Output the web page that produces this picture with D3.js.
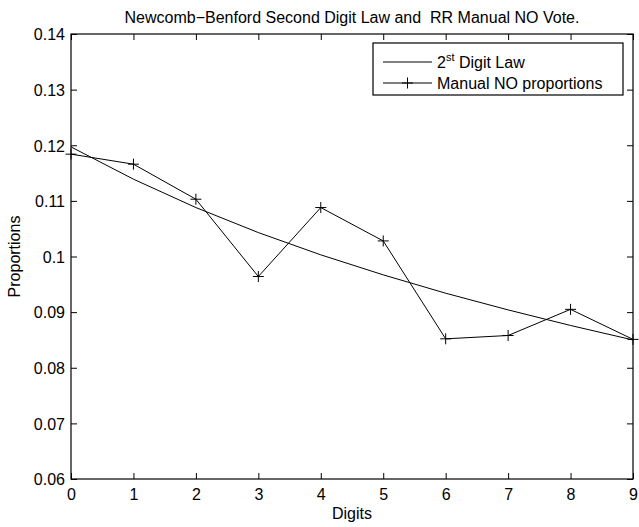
<!DOCTYPE html>
<html>
<head>
<meta charset="utf-8">
<script src="https://cdn.jsdelivr.net/npm/d3@7"></script>
<style>
  html, body { margin: 0; padding: 0; background: #fff; }
  svg text { font-family: "Liberation Sans", Arial, Helvetica, sans-serif; fill: #000; white-space: pre; }
</style>
</head>
<body>
<svg id="chart" width="639" height="527"></svg>
<script>
const digits = [0, 1, 2, 3, 4, 5, 6, 7, 8, 9];
const benfordLaw = [0.1197, 0.1139, 0.1088, 0.1043, 0.1003, 0.0967, 0.0934, 0.0904, 0.0876, 0.0850];
const manualNo = [0.1184, 0.1166, 0.1103, 0.0964, 0.1088, 0.1028, 0.0852, 0.0858, 0.0905, 0.0851];
const yTicks = [0.06, 0.07, 0.08, 0.09, 0.1, 0.11, 0.12, 0.13, 0.14];
const yTickLabels = ["0.06", "0.07", "0.08", "0.09", "0.1", "0.11", "0.12", "0.13", "0.14"];
const titleText = "Newcomb\u2212Benford Second Digit Law and  RR Manual NO Vote.";
const xLabel = "Digits";
const yLabel = "Proportions";
const legendLabels = ["Digit Law", "Manual NO proportions"];

const svg = d3.select("#chart");
const m = { left: 71, right: 633, top: 34, bottom: 479 };
const x = d3.scaleLinear().domain([0, 9]).range([m.left, m.right]);
const y = d3.scaleLinear().domain([0.06, 0.14]).range([m.bottom, m.top]);
const fs = 16;
const tickLen = 6;

// Box
svg.append("rect")
  .attr("x", m.left).attr("y", m.top)
  .attr("width", m.right - m.left).attr("height", m.bottom - m.top)
  .attr("fill", "none").attr("stroke", "#000").attr("stroke-width", 1.2);

// Axes with inward ticks
const xAxisB = d3.axisBottom(x).tickValues(digits).tickSize(-tickLen).tickPadding(10).tickFormat(d3.format("d"));
const gx = svg.append("g").attr("transform", `translate(0,${m.bottom})`).call(xAxisB);
const xAxisT = d3.axisTop(x).tickValues(digits).tickSize(-tickLen).tickFormat("");
const gxt = svg.append("g").attr("transform", `translate(0,${m.top})`).call(xAxisT);
const yAxisL = d3.axisLeft(y).tickValues(yTicks).tickSize(-tickLen).tickPadding(6)
  .tickFormat((d, i) => yTickLabels[i]);
const gy = svg.append("g").attr("transform", `translate(${m.left},0)`).call(yAxisL);
const yAxisR = d3.axisRight(y).tickValues(yTicks).tickSize(-tickLen).tickFormat("");
const gyr = svg.append("g").attr("transform", `translate(${m.right},0)`).call(yAxisR);

[gx, gxt, gy, gyr].forEach(g => {
  g.select(".domain").remove();
  g.selectAll(".tick line").attr("stroke", "#000").attr("stroke-width", 1);
  g.selectAll("text").attr("font-size", fs).attr("font-family", '"Liberation Sans", Arial, sans-serif').attr("fill", "#000");
});
gx.selectAll(".tick text").attr("dy", "0.71em");
gy.selectAll(".tick text").attr("dy", "0.36em").attr("x", -6);

// Lines
const line = d3.line().x((d, i) => x(digits[i])).y(d => y(d));
svg.append("path").datum(benfordLaw).attr("d", line)
  .attr("fill", "none").attr("stroke", "#000").attr("stroke-width", 1);
svg.append("path").datum(manualNo).attr("d", line)
  .attr("fill", "none").attr("stroke", "#000").attr("stroke-width", 1);

// Plus markers
const ms = 5.5;
const markers = svg.append("g");
manualNo.forEach((v, i) => {
  const cx = x(digits[i]), cy = y(v);
  markers.append("path")
    .attr("d", `M${cx - ms},${cy}H${cx + ms}M${cx},${cy - ms}V${cy + ms}`)
    .attr("stroke", "#000").attr("stroke-width", 1).attr("fill", "none");
});

// Title and labels
svg.append("text").attr("x", (m.left + m.right) / 2).attr("y", 23)
  .attr("text-anchor", "middle").attr("font-size", fs).text(titleText);
svg.append("text").attr("x", (m.left + m.right) / 2).attr("y", 519)
  .attr("text-anchor", "middle").attr("font-size", fs).text(xLabel);
svg.append("text").attr("transform", `translate(20,${(m.top + m.bottom) / 2}) rotate(-90)`)
  .attr("text-anchor", "middle").attr("font-size", fs).text(yLabel);

// Legend
const lg = { x0: 373, x1: 623, y0: 43, y1: 95 };
svg.append("rect").attr("x", lg.x0).attr("y", lg.y0)
  .attr("width", lg.x1 - lg.x0).attr("height", lg.y1 - lg.y0)
  .attr("fill", "#fff").attr("stroke", "#000").attr("stroke-width", 1.2);
const rows = [62, 83];
const lx0 = 383, lx1 = 432, tx = 437;
rows.forEach((ry, i) => {
  svg.append("line").attr("x1", lx0).attr("x2", lx1).attr("y1", ry).attr("y2", ry)
    .attr("stroke", "#000").attr("stroke-width", 1);
});
const mcx = (lx0 + lx1) / 2;
svg.append("path")
  .attr("d", `M${mcx - ms},${rows[1]}H${mcx + ms}M${mcx},${rows[1] - ms}V${rows[1] + ms}`)
  .attr("stroke", "#000").attr("stroke-width", 1);
const t1 = svg.append("text").attr("x", tx).attr("y", rows[0] + 6).attr("font-size", fs);
t1.append("tspan").text("2");
t1.append("tspan").attr("dy", -7).attr("font-size", 11).text("st");
t1.append("tspan").attr("dy", 7).text(" " + legendLabels[0]);
svg.append("text").attr("x", tx).attr("y", rows[1] + 6).attr("font-size", fs).text(legendLabels[1]);
</script>
</body>
</html>
